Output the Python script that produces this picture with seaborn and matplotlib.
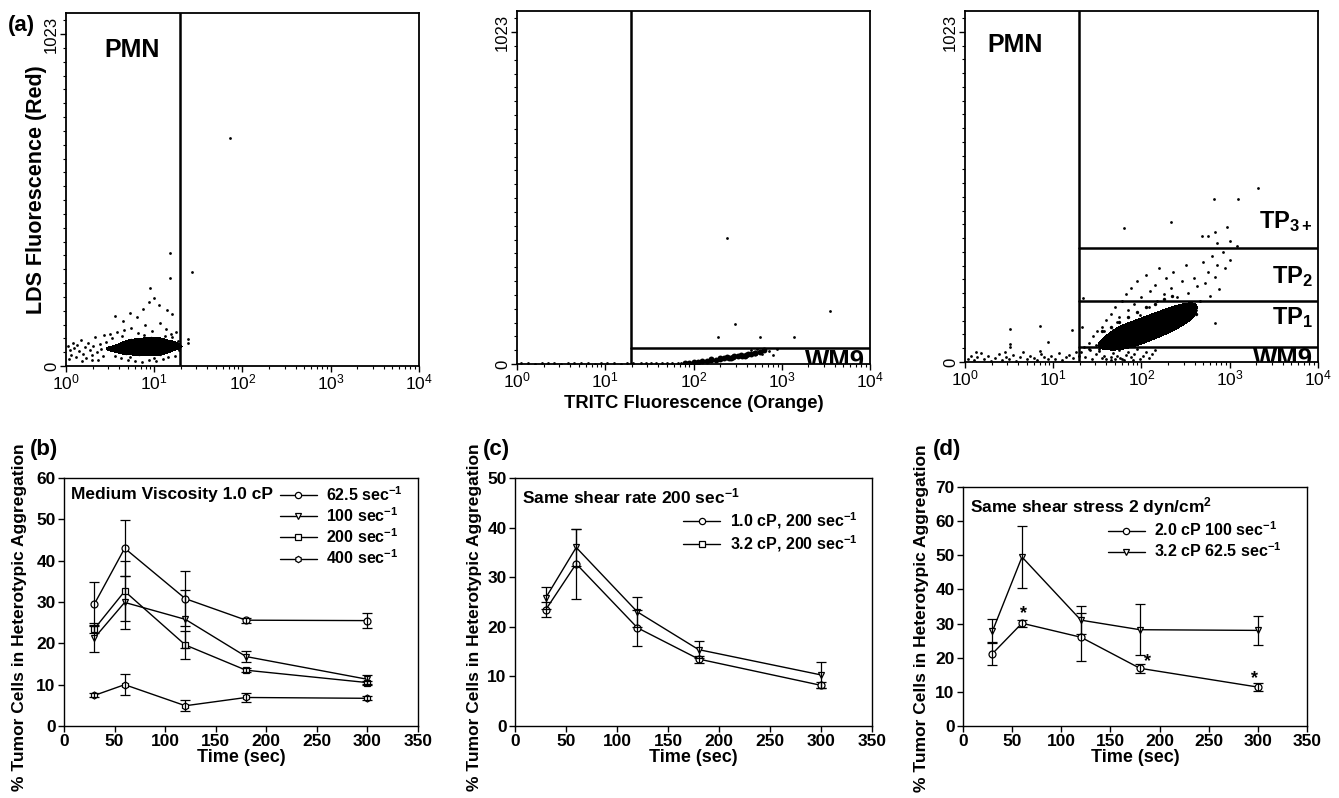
import numpy as np
import pandas as pd
import matplotlib
matplotlib.use("Agg")
import matplotlib.pyplot as plt
import seaborn as sns
from matplotlib.lines import Line2D
from matplotlib.colors import ListedColormap
from matplotlib.ticker import MultipleLocator, LogLocator, NullFormatter, FixedLocator

# ---------------- flow cytometry dots (log10 of TRITC, LDS channel) ----------------
pmn_core_x = [0.48, 0.55, 0.60, 0.65, 0.70, 0.72, 0.75, 0.78, 0.80, 0.82, 0.85, 0.87, 0.88, 0.90, 0.92,
              0.93, 0.95, 0.97, 0.98, 1.00, 1.02, 1.03, 1.05, 1.07, 1.08, 1.10, 1.12, 1.15, 1.18, 1.22,
              1.26, 0.68, 0.83, 0.96, 1.06, 0.74, 0.91]
pmn_core_y = [55, 48, 62, 52, 70, 45, 58, 66, 50, 74, 60, 42, 55, 68, 48, 78, 58, 64, 40, 70, 52, 82,
              60, 45, 74, 58, 66, 50, 72, 56, 62, 40, 38, 85, 36, 80, 60]
pmn_dots_x = [0.02, 0.04, 0.06, 0.08, 0.09, 0.11, 0.13, 0.15, 0.17, 0.19, 0.21, 0.23, 0.25, 0.27, 0.29,
              0.31, 0.33, 0.35, 0.36, 0.38, 0.40, 0.42, 0.43, 0.45, 0.03, 0.18, 0.30,
              0.50, 0.55, 0.58, 0.62, 0.66, 0.70, 0.74, 0.78, 0.82, 0.86, 0.90, 0.94, 0.98, 1.02, 1.06,
              1.10, 1.13, 1.16, 1.19, 1.23, 1.25, 1.27, 1.28, 0.52, 0.64, 0.88, 1.12, 0.72, 1.00, 1.20,
              1.86, 1.18, 1.18, 1.43, 0.95, 0.94, 1.00, 0.87, 0.72, 0.56, 1.14, 1.38, 1.38, 0.80, 1.05,
              1.20, 0.65]
pmn_dots_y = [62, 48, 35, 72, 55, 28, 64, 45, 80, 38, 58, 25, 70, 50, 33, 62, 88, 42, 20, 68, 52, 30,
              95, 75, 22, 15, 18,
              98, 30, 105, 25, 112, 20, 118, 15, 102, 12, 125, 18, 108, 14, 132, 22, 115, 28, 98, 30,
              105, 78, 48, 85, 92, 95, 92, 28, 25, 88,
              703, 347, 270, 289, 240, 197, 209, 175, 163, 154, 172, 83, 72, 150, 188, 160, 140]

wm9_comet_x = [1.90, 1.95, 2.00, 2.05, 2.10, 2.15, 2.20, 2.25, 2.30, 2.35, 2.40, 2.45, 2.50, 2.55, 2.60,
               2.65, 2.70, 2.75, 2.80, 2.30, 2.38, 2.46, 2.54, 2.62, 2.70, 2.20, 2.42, 2.58]
wm9_comet_y = [3, 4, 5, 6, 8, 9, 11, 13, 15, 17, 19, 21, 24, 26, 29, 32, 35, 38, 42, 19, 22, 25, 28, 31,
               34, 15, 17, 24]
wm9_dots_x = [2.72, 2.78, 2.85, 2.65, 2.90, 2.95,
              0.05, 0.12, 0.20, 0.28, 0.35, 0.42, 0.50, 0.58, 0.65, 0.72, 0.80, 0.88, 0.95, 1.02, 1.10,
              1.18, 1.25, 1.32, 1.40, 1.46, 1.52, 1.58, 1.64, 1.70, 1.76, 1.82, 1.86,
              2.38, 3.55, 2.47, 2.28, 2.75, 3.14]
wm9_dots_y = [46, 30, 40, 42, 28, 45,
              2, 3, 1, 2, 3, 2, 1, 3, 2, 2, 3, 1, 2, 3, 2, 1, 3, 2, 3, 2, 3, 2, 3, 3, 4, 3, 4,
              389, 164, 124, 84, 84, 84]

mix_core_x = [1.55, 1.62, 1.68, 1.72, 1.76, 1.80, 1.84, 1.88, 1.90, 1.93, 1.96, 1.99, 2.02, 2.05, 2.08,
              2.10, 2.13, 2.16, 2.19, 2.22, 2.25, 2.28, 2.32, 2.36, 2.40, 2.45, 2.50, 2.56, 1.85, 1.95,
              2.05, 2.15, 2.25, 2.35, 1.75, 2.00, 2.20, 2.40,
              1.55, 1.65, 1.75, 1.85, 1.95, 2.05, 2.15, 2.25, 2.35,
              1.75, 1.85, 1.95, 2.05, 2.15, 2.25, 2.35, 2.45, 2.55, 2.62]
mix_core_y = [55, 62, 70, 66, 80, 74, 88, 82, 95, 86, 100, 92, 108, 98, 118, 106, 112, 125, 118, 130,
              124, 138, 135, 145, 150, 158, 168, 178, 65, 78, 90, 104, 112, 128, 85, 120, 140, 165,
              95, 110, 125, 140, 155, 170, 180, 195, 205,
              45, 55, 65, 75, 85, 95, 105, 120, 135, 150]
mix_dots_x = [1.35, 1.40, 1.42, 1.45, 1.48, 1.50, 1.52, 1.55, 1.58, 1.60, 1.62, 1.65, 1.68, 1.70, 1.72,
              1.75, 1.78, 1.80, 1.82, 1.85, 1.88, 1.90, 1.92, 1.95, 1.98, 2.00, 2.02, 2.05, 2.08, 2.10,
              2.12, 2.15, 2.18, 2.20, 2.22, 2.25, 2.28, 2.30, 2.33, 2.36, 2.40, 2.43, 2.46, 2.50, 2.53,
              2.56, 2.60, 2.63, 2.66, 2.70, 2.72, 2.75, 2.78, 2.80, 2.83, 2.86, 2.88, 2.92, 2.95, 3.00,
              2.62, 2.48, 2.35, 1.72, 1.58,
              1.32, 1.36, 1.40, 1.44, 1.48, 1.52, 1.55, 1.58, 1.62, 1.65, 1.68, 1.72, 1.75, 1.78, 1.82,
              1.85, 1.88, 1.92, 1.95, 1.98, 2.02, 2.05, 2.08, 2.12, 2.15, 1.60, 1.70, 1.80, 1.90, 1.66,
              1.76,
              0.03, 0.07, 0.10, 0.14, 0.18, 0.22, 0.26, 0.30, 0.34, 0.38, 0.42, 0.46, 0.50, 0.54, 0.58,
              0.62, 0.66, 0.70, 0.74, 0.78, 0.82, 0.86, 0.90, 0.94, 0.98, 1.02, 1.06, 1.10, 1.14, 1.18,
              1.22, 1.26, 1.29, 0.12, 0.45, 0.85,
              0.51, 0.51, 0.51, 0.85, 0.94, 1.21, 1.33, 1.34,
              3.32, 2.82, 3.09, 2.33, 1.80, 2.69, 2.83, 2.97, 2.86, 3.00, 3.08, 2.75, 2.83]
mix_dots_y = [45, 60, 38, 80, 52, 95, 40, 110, 75, 130, 45, 150, 100, 170, 55, 140, 190, 60, 210, 160,
              230, 70, 180, 250, 145, 200, 80, 270, 170, 220, 75, 240, 190, 290, 95, 210, 260, 110, 230,
              280, 200, 120, 250, 300, 215, 140, 260, 235, 190, 310, 245, 280, 205, 330, 265, 300, 225,
              340, 290, 315, 160, 175, 150, 125, 95,
              30, 15, 40, 8, 25, 35, 12, 20, 42, 6, 28, 18, 38, 10, 22, 32, 14, 26, 40, 9, 20, 30, 12,
              24, 36, 10, 8, 6, 5, 15, 12,
              10, 20, 5, 15, 28, 8, 18, 3, 12, 25, 6, 16, 10, 22, 4, 14, 30, 8, 18, 12, 5, 24, 15, 8, 20,
              10, 28, 6, 16, 22, 12, 30, 18, 30, 32, 35,
              103, 56, 45, 112, 62, 100, 109, 199,
              538, 504, 504, 435, 414, 392, 404, 417, 370, 376, 360, 392, 121]

# ---------------- aggregation time courses ----------------
time_s = [30, 60, 120, 180, 300]

b_labels = ["62.5 sec$^{-1}$", "100 sec$^{-1}$", "200 sec$^{-1}$", "400 sec$^{-1}$"]
b_vals = [[29.5, 43.0, 30.8, 25.6, 25.5],
          [21.3, 29.9, 25.8, 16.8, 11.3],
          [23.5, 32.6, 19.6, 13.5, 10.5],
          [7.4, 10.0, 4.9, 6.9, 6.7]]
b_errs = [[5.4, 6.8, 6.7, 0.6, 1.9],
          [3.5, 6.5, 7.0, 1.4, 1.1],
          [1.0, 7.2, 3.5, 0.5, 0.5],
          [0.5, 2.5, 1.3, 1.0, 0.5]]

c_labels = ["1.0 cP, 200 sec$^{-1}$", "3.2 cP, 200 sec$^{-1}$"]
c_vals = [[23.4, 32.7, 19.8, 13.5, 8.2],
          [25.8, 36.0, 23.0, 15.4, 10.3]]
c_errs = [[1.5, 7.1, 3.6, 0.7, 0.6],
          [2.2, 3.8, 3.1, 1.7, 2.7]]

d_labels = ["2.0 cP 100 sec$^{-1}$", "3.2 cP 62.5 sec$^{-1}$"]
d_vals = [[21.2, 30.1, 26.0, 16.9, 11.4],
          [27.8, 49.5, 31.0, 28.2, 28.0]]
d_errs = [[3.4, 1.0, 7.0, 1.4, 1.2],
          [3.6, 9.1, 4.1, 7.4, 4.3]]
d_star_x = [62, 188, 297]
d_star_y = [33.0, 19.0, 14.0]

# ---------------- style ----------------
sns.set_style("ticks")
plt.rcParams['font.family'] = ['Liberation Sans', 'DejaVu Sans']
plt.rcParams['mathtext.fontset'] = 'custom'
plt.rcParams['mathtext.rm'] = 'Liberation Sans'
plt.rcParams['mathtext.bf'] = 'Liberation Sans:bold'
plt.rcParams['mathtext.default'] = 'bf'
plt.rcParams['axes.edgecolor'] = 'black'
plt.rcParams['xtick.color'] = 'black'
plt.rcParams['ytick.color'] = 'black'
plt.rcParams['text.color'] = 'black'
plt.rcParams['axes.labelcolor'] = 'black'

W, H = 1339, 798
fig = plt.figure(figsize=(W / 100, H / 100), dpi=100)


def ax_at(l, t, r, b):
    return fig.add_axes([l / W, 1 - b / H, (r - l) / W, (b - t) / H])


GATE = 10 ** 1.29
YTOP = 1088


def cyto_axes(ax):
    ax.set_xscale("log")
    ax.set_xlim(1, 1e4)
    ax.set_ylim(0, YTOP)
    ax.xaxis.set_major_locator(FixedLocator([1, 10, 100, 1000, 10000]))
    ax.xaxis.set_minor_locator(LogLocator(base=10, subs=np.arange(2, 10)))
    ax.xaxis.set_minor_formatter(NullFormatter())
    ax.set_yticks([0, 1023])
    ax.set_yticklabels(["0", "1023"], rotation=90, va="center", fontsize=12)
    ax.yaxis.set_minor_locator(MultipleLocator(1023 / 24))
    ax.tick_params(axis="x", labelsize=12.5, length=4, width=1, pad=1)
    ax.tick_params(axis="x", which="minor", length=2.5, width=0.8)
    ax.tick_params(axis="y", length=4, width=1, pad=1)
    ax.tick_params(axis="y", which="minor", length=2.5, width=0.8)
    for s in ax.spines.values():
        s.set_linewidth(1.3)
    ax.set_xlabel("")
    ax.set_ylabel("")


def dots(ax, xs, ys, size=4):
    sns.scatterplot(x=10 ** np.array(xs), y=ys, ax=ax, color="black", s=size,
                    linewidth=0, legend=False)


def blob(ax, xs, ys, bw, lev):
    sns.kdeplot(x=10 ** np.array(xs), y=ys, ax=ax, log_scale=(True, False), fill=True,
                levels=[lev, 1], cmap=ListedColormap(["black"]), bw_adjust=bw)


# panel a-1: PMN alone
a1 = ax_at(66, 13, 419, 366)
blob(a1, pmn_core_x, pmn_core_y, 0.9, 0.15)
dots(a1, pmn_core_x, pmn_core_y, 6)
dots(a1, pmn_dots_x, pmn_dots_y)
cyto_axes(a1)
a1.axvline(GATE, color="black", lw=1.8)
a1.text(0.187, 0.895, "PMN", transform=a1.transAxes, ha="center", va="center",
        fontsize=18, fontweight="bold")
a1.set_ylabel("LDS Fluorescence (Red)", fontsize=15.5, fontweight="bold")
a1.yaxis.set_label_coords(-0.055, 0.5)

# panel a-2: WM9 alone
a2 = ax_at(517, 11, 870, 364)
dots(a2, wm9_comet_x, wm9_comet_y, 18)
dots(a2, wm9_dots_x, wm9_dots_y)
cyto_axes(a2)
a2.axvline(GATE, color="black", lw=1.8)
a2.plot([GATE, 1e4], [49, 49], color="black", lw=1.8)
a2.text(0.985, -12, "WM9", transform=a2.get_yaxis_transform(), ha="right", va="baseline",
        fontsize=18.5, fontweight="bold", clip_on=True)
a2.set_xlabel("TRITC Fluorescence (Orange)", fontsize=13.2, fontweight="bold", labelpad=3)

# panel a-3: mixture
a3 = ax_at(965, 11, 1318, 362)
blob(a3, mix_core_x, mix_core_y, 1.2, 0.3)
dots(a3, mix_core_x, mix_core_y, 6)
dots(a3, mix_dots_x, mix_dots_y)
cyto_axes(a3)
a3.axvline(GATE, color="black", lw=1.8)
for yl in [354, 190, 47]:
    a3.plot([GATE, 1e4], [yl, yl], color="black", lw=1.8)
a3.text(0.142, 0.903, "PMN", transform=a3.transAxes, ha="center", va="center",
        fontsize=18, fontweight="bold")
tp_trans = a3.get_yaxis_transform()
a3.text(0.985, 435, "TP$_{3+}$", transform=tp_trans, ha="right", va="center", fontsize=17,
        fontweight="bold")
a3.text(0.985, 264, "TP$_{2}$", transform=tp_trans, ha="right", va="center", fontsize=17,
        fontweight="bold")
a3.text(0.985, 137, "TP$_{1}$", transform=tp_trans, ha="right", va="center", fontsize=17,
        fontweight="bold")
a3.text(0.985, -12, "WM9", transform=tp_trans, ha="right", va="baseline",
        fontsize=18.5, fontweight="bold", clip_on=True)


# ---------------- time course panels ----------------
def course(ax, vals, errs, markers, ymax, labels, legend_markers, note, leg_anchor, lab_xy):
    for v, e, m in zip(vals, errs, markers):
        sns.lineplot(x=time_s, y=v, ax=ax, color="black", lw=1, marker=m, ms=5,
                     mfc="white", mec="black", mew=0.9, zorder=3)
        ax.errorbar(time_s, v, yerr=e, fmt="none", ecolor="black", elinewidth=0.9,
                    capsize=3.5, capthick=0.9, zorder=4)
    ax.set_xlim(0, 350)
    ax.set_ylim(0, ymax)
    ax.set_xticks(range(0, 351, 50))
    ax.set_yticks(range(0, ymax + 1, 10))
    ax.tick_params(length=4, width=1, labelsize=12.5, pad=2)
    for lab in ax.get_xticklabels() + ax.get_yticklabels():
        lab.set_fontweight("bold")
    for s in ax.spines.values():
        s.set_linewidth(1.0)
    ax.set_xlabel("Time (sec)", fontsize=13, fontweight="bold", labelpad=0)
    ax.set_ylabel("% Tumor Cells in Heterotypic Aggregation", fontsize=12.5,
                  fontweight="bold")
    ax.yaxis.set_label_coords(*lab_xy)
    handles = [Line2D([], [], color="black", lw=1, marker=m, ms=4.5, mfc="white",
                      mec="black", mew=0.9) for m in legend_markers]
    ax.legend(handles, labels, loc="upper right", bbox_to_anchor=leg_anchor, frameon=False,
              handlelength=2.3, handletextpad=0.6, labelspacing=0.15, borderaxespad=0.2,
              prop={"weight": "bold", "size": 11.5})
    ax.text(0.02, 0.965, note, transform=ax.transAxes, ha="left", va="top", fontsize=12.5,
            fontweight="bold")


bx = ax_at(64, 478, 418, 726)
course(bx, b_vals, b_errs, ["o", "v", "s", "h"], 60, b_labels, ["o", "v", "s", "h"],
       "Medium Viscosity 1.0 cP", (0.985, 1.01), (-0.105, 0.44))

cx = ax_at(515, 478, 872, 726)
course(cx, c_vals, c_errs, ["o", "v"], 50, c_labels, ["o", "s"],
       "Same shear rate 200 sec$^{-1}$", (0.985, 0.91), (-0.092, 0.44))

dx = ax_at(963, 487, 1307, 726)
course(dx, d_vals, d_errs, ["o", "v"], 70, d_labels, ["o", "v"],
       "Same shear stress 2 dyn/cm$^{2}$", (0.955, 0.9), (-0.099, 0.45))
for sx, sy in zip(d_star_x, d_star_y):
    dx.text(sx, sy, "*", ha="center", va="center", fontsize=13, fontweight="bold")

# panel letters
for lx, ly, t in [(8, 25, "(a)"), (30, 450, "(b)"), (483, 450, "(c)"), (933, 450, "(d)")]:
    fig.text(lx / W, 1 - ly / H, t, ha="left", va="center", fontsize=16, fontweight="bold")

fig.savefig("out.png", dpi=100)
